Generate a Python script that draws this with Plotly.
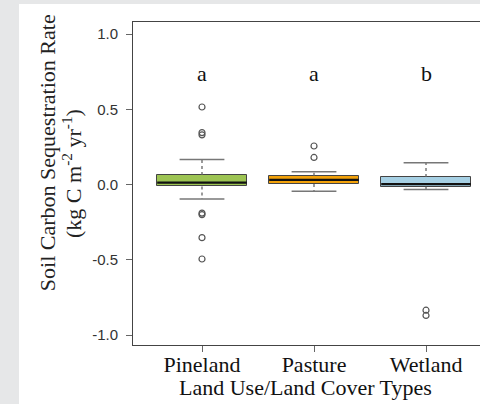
import plotly.graph_objects as go

# ---- data ----
categories = ["Pineland", "Pasture", "Wetland"]
q1 = [-0.013, 0.003, -0.015]
median = [0.012, 0.031, 0.003]
q3 = [0.063, 0.059, 0.050]
lower_whisker = [-0.096, -0.045, -0.033]
upper_whisker = [0.167, 0.085, 0.145]
outliers = {
    "Pineland": [0.515, 0.345, 0.330, -0.190, -0.200, -0.353, -0.495],
    "Pasture": [0.256, 0.180],
    "Wetland": [-0.835, -0.870],
}
sig_letters = ["a", "a", "b"]
letter_y = 0.74
y_ticks = [-1.0, -0.5, 0.0, 0.5, 1.0]

# ---- styles ----
fills = ["#9dc453", "#f2a10a", "#a6d0e4"]
box_w = 0.8
cap_w = 0.4
serif = "Liberation Serif, Times New Roman, serif"
sans = "Liberation Sans, Arial, sans-serif"

pos = list(range(1, len(categories) + 1))

fig = go.Figure()

# boxes
fig.add_trace(go.Bar(
    x=pos, y=[b - a for a, b in zip(q1, q3)], base=q1, width=box_w,
    marker=dict(color=fills, line=dict(color="#444444", width=1)),
    showlegend=False, hoverinfo="skip",
))

for i, p in enumerate(pos):
    # dashed whisker stems
    fig.add_trace(go.Scatter(
        x=[p, p, None, p, p],
        y=[q3[i], upper_whisker[i], None, q1[i], lower_whisker[i]],
        mode="lines", line=dict(color="#666666", width=1.3, dash="3px,3px"),
        showlegend=False, hoverinfo="skip",
    ))
    # whisker caps
    fig.add_trace(go.Scatter(
        x=[p - cap_w / 2, p + cap_w / 2, None, p - cap_w / 2, p + cap_w / 2],
        y=[upper_whisker[i], upper_whisker[i], None, lower_whisker[i], lower_whisker[i]],
        mode="lines", line=dict(color="#777777", width=1.5),
        showlegend=False, hoverinfo="skip",
    ))
    # median
    fig.add_trace(go.Scatter(
        x=[p - box_w / 2, p + box_w / 2], y=[median[i], median[i]],
        mode="lines", line=dict(color="#111111", width=2.2),
        showlegend=False, hoverinfo="skip",
    ))
    # outliers
    vals = outliers[categories[i]]
    fig.add_trace(go.Scatter(
        x=[p] * len(vals), y=vals, mode="markers",
        marker=dict(symbol="circle-open", size=6, color="#555555",
                    line=dict(width=1.2, color="#555555")),
        showlegend=False, hoverinfo="skip",
    ))
    # significance letters
    fig.add_annotation(x=p, y=letter_y, text=sig_letters[i], showarrow=False,
                       font=dict(family=serif, size=22, color="#111111"))

# y-axis title (two lines)
fig.add_annotation(xref="paper", yref="paper", x=-0.2478, y=0.594,
                   xanchor="center", yanchor="middle",
                   text="Soil Carbon Sequestration Rate", textangle=-90,
                   showarrow=False, font=dict(family=serif, size=22, color="#222222"))
fig.add_annotation(xref="paper", yref="paper", x=-0.1758, y=0.5325,
                   xanchor="center", yanchor="middle",
                   text="(kg C m<sup>-2</sup> yr<sup>-1</sup>)", textangle=-90,
                   showarrow=False, font=dict(family=serif, size=22, color="#222222"))
# x-axis title
fig.add_annotation(xref="paper", yref="paper", x=0.496, y=-0.133,
                   xanchor="center", yanchor="middle",
                   text="Land Use/Land Cover Types",
                   showarrow=False, font=dict(family=serif, size=22, color="#111111"))

# white panel on gray page
fig.add_shape(type="rect", xref="paper", yref="paper",
              x0=-0.3285, x1=1.05, y0=-0.19, y1=1.0557,
              fillcolor="white", line=dict(width=0), layer="below")

fig.update_layout(
    width=480, height=404,
    margin=dict(l=133, r=0, t=22, b=59),
    paper_bgcolor="#e6e7e8",
    plot_bgcolor="white",
    bargap=0,
    xaxis=dict(
        range=[0.384, 3.482], tickvals=pos, ticktext=categories,
        showline=True, linecolor="#444444", linewidth=1, mirror=True,
        ticks="outside", ticklen=6, tickcolor="#666666",
        ticklabelstandoff=-6,
        showgrid=False, zeroline=False,
        tickfont=dict(family=serif, size=22, color="#111111"),
    ),
    yaxis=dict(
        range=[-1.0664, 1.08], tickvals=y_ticks,
        ticktext=[f"{v:.1f}" for v in y_ticks],
        showline=True, linecolor="#444444", linewidth=1,
        ticks="outside", ticklen=6, tickcolor="#666666",
        ticklabelstandoff=5,
        showgrid=False, zeroline=False,
        tickfont=dict(family=sans, size=15, color="#333333"),
    ),
)

fig.write_html(
    "out.html",
    config={"displayModeBar": False},
    post_script="document.body.style.margin='0';document.body.style.overflow='hidden';",
)
